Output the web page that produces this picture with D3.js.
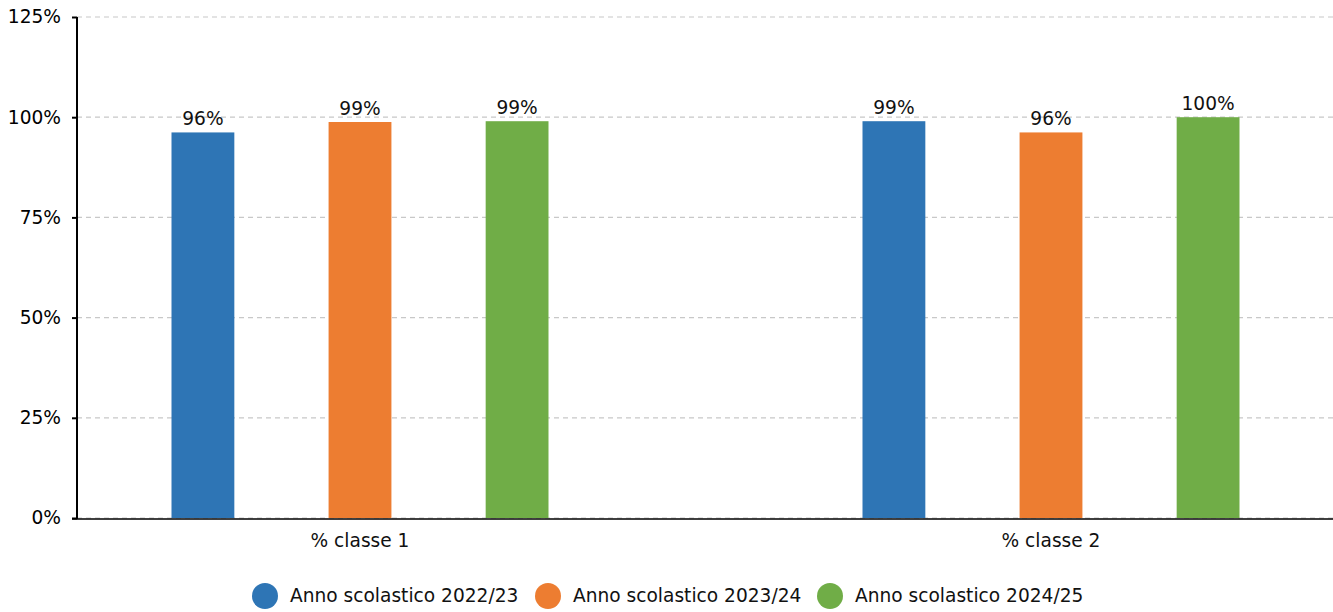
<!DOCTYPE html>
<html>
<head>
<meta charset="utf-8">
<script src="https://cdn.jsdelivr.net/npm/d3@7"></script>
<style>
  body { margin: 0; background: #fff; }
  text { font-family: "DejaVu Sans", sans-serif; }
</style>
</head>
<body>
<div id="chart"></div>
<script>
// data
var categories = ["% classe 1", "% classe 2"];
var seriesNames = ["Anno scolastico 2022/23", "Anno scolastico 2023/24", "Anno scolastico 2024/25"];
var seriesColors = ["#2e75b5", "#ed7d31", "#70ad47"];
var values2022 = [96.2, 99.0];
var values2023 = [98.8, 96.2];
var values2024 = [99.0, 100.0];
var labels2022 = ["96%", "99%"];
var labels2023 = ["99%", "96%"];
var labels2024 = ["99%", "100%"];
var yTicks = [0, 25, 50, 75, 100, 125];

var allValues = [values2022, values2023, values2024];
var allLabels = [labels2022, labels2023, labels2024];

var width = 1333, height = 612;
var plotLeft = 77, plotRight = 1333, plotTop = 17, plotBottom = 518;
var fontSize = 18.6;

//Make an SVG Container
var svg = d3.select("#chart").append("svg")
    .attr("width", width)
    .attr("height", height);

var y = d3.scaleLinear().domain([0, 125]).range([plotBottom, plotTop]);

// group positions (centres at 360 and 1051)
var x0 = d3.scaleBand().domain(categories).range([14.5, 1396.5]).padding(0);
var x1 = d3.scaleBand().domain(seriesNames).range([-188.5, 188.5]).paddingInner(0.6).paddingOuter(0);

// grid lines
svg.append("g").selectAll("line")
    .data(yTicks)
    .enter().append("line")
    .attr("x1", plotLeft)
    .attr("x2", plotRight)
    .attr("y1", function(d) { return y(d); })
    .attr("y2", function(d) { return y(d); })
    .attr("stroke", "#c8c8c8")
    .attr("stroke-width", 1.2)
    .attr("stroke-dasharray", "5,4");

// y axis
var yAxis = d3.axisLeft(y)
    .tickValues(yTicks)
    .tickFormat(function(d) { return d + "%"; })
    .tickSize(5)
    .tickPadding(11);

var gy = svg.append("g")
    .attr("transform", "translate(" + plotLeft + ",0)")
    .call(yAxis);
gy.select(".domain").remove();
gy.selectAll(".tick line").attr("stroke", "#000").attr("stroke-width", 2);
gy.selectAll(".tick text")
    .attr("font-size", fontSize)
    .attr("fill", "#000")
    .style("font-family", "DejaVu Sans, sans-serif");

// bars
seriesNames.forEach(function(name, s) {
    svg.append("g").selectAll("rect")
        .data(categories)
        .enter().append("rect")
        .attr("x", function(c) { return x0(c) + x0.bandwidth() / 2 + x1(name); })
        .attr("width", x1.bandwidth())
        .attr("y", function(c, i) { return y(allValues[s][i]); })
        .attr("height", function(c, i) { return y(0) - y(allValues[s][i]); })
        .attr("fill", seriesColors[s]);

    svg.append("g").selectAll("text")
        .data(categories)
        .enter().append("text")
        .attr("x", function(c) { return x0(c) + x0.bandwidth() / 2 + x1(name) + x1.bandwidth() / 2; })
        .attr("y", function(c, i) { return y(allValues[s][i]) - 7; })
        .attr("text-anchor", "middle")
        .attr("font-size", fontSize)
        .attr("fill", "#111")
        .text(function(c, i) { return allLabels[s][i]; });
});

// axis lines
svg.append("line")
    .attr("x1", plotLeft).attr("x2", plotLeft)
    .attr("y1", plotTop).attr("y2", plotBottom + 1)
    .attr("stroke", "#000").attr("stroke-width", 2);

svg.append("line")
    .attr("x1", plotLeft - 5).attr("x2", plotRight)
    .attr("y1", plotBottom + 1).attr("y2", plotBottom + 1)
    .attr("stroke", "#000").attr("stroke-width", 1.5);

// category labels
svg.append("g").selectAll("text")
    .data(categories)
    .enter().append("text")
    .attr("x", function(c) { return x0(c) + x0.bandwidth() / 2; })
    .attr("y", 547)
    .attr("text-anchor", "middle")
    .attr("font-size", fontSize)
    .attr("fill", "#111")
    .text(function(c) { return c; });

// legend
var legendX = [265, 548, 830];
var legend = svg.append("g").selectAll("g")
    .data(seriesNames)
    .enter().append("g")
    .attr("transform", function(d, i) { return "translate(" + legendX[i] + ",596)"; });

legend.append("circle")
    .attr("r", 13)
    .attr("fill", function(d, i) { return seriesColors[i]; });

legend.append("text")
    .attr("x", 25)
    .attr("y", 6)
    .attr("font-size", fontSize)
    .attr("fill", "#111")
    .text(function(d) { return d; });
</script>
</body>
</html>
